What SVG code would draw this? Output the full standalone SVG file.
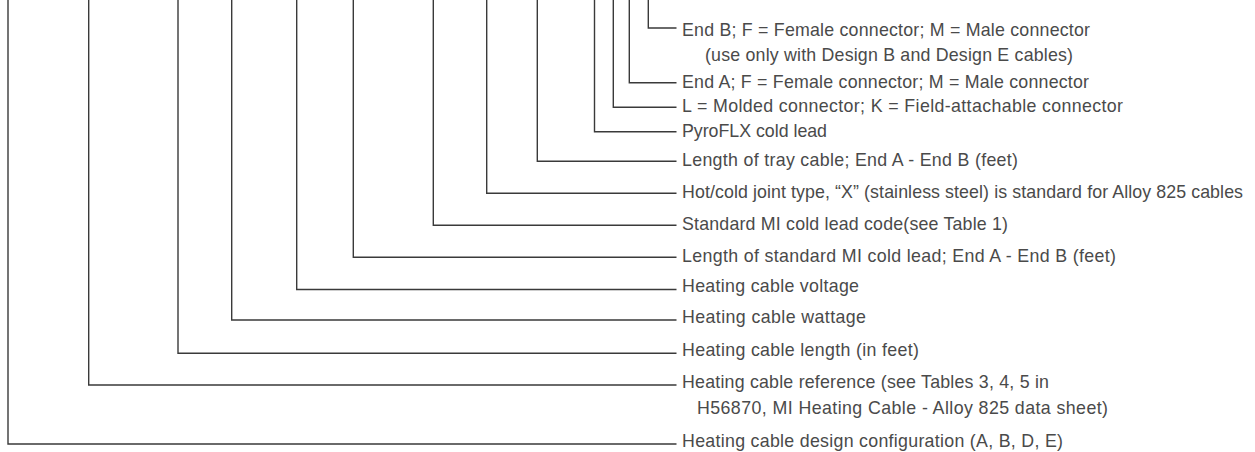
<svg xmlns="http://www.w3.org/2000/svg" width="1255" height="452" viewBox="0 0 1255 452">
<style>
.c{fill:none;stroke:#3a3a3a;stroke-width:1.4}
.t{font-family:"Liberation Sans",Arial,sans-serif;font-size:17.8px;fill:#4a4a4a}
</style>
<rect width="1255" height="452" fill="#fff"/>
<g id="connectors">
<path class="c" d="M648.3 0V28H676.5"/>
<path class="c" d="M629.3 0V82.7H676.5"/>
<path class="c" d="M613.3 0V107.3H676.5"/>
<path class="c" d="M594.5 0V131.7H676.5"/>
<path class="c" d="M537.3 0V161.3H676.5"/>
<path class="c" d="M486.7 0V193.3H676.5"/>
<path class="c" d="M433.3 0V225.3H676.5"/>
<path class="c" d="M353.3 0V257.3H676.5"/>
<path class="c" d="M296.7 0V289.5H676.5"/>
<path class="c" d="M231.7 0V320H676.5"/>
<path class="c" d="M178 0V353.3H676.5"/>
<path class="c" d="M88.7 0V385H676.5"/>
<path class="c" d="M8 0V444H676.5"/>
</g>
<g id="end-b"><text class="t" x="682" y="35.5" textLength="408">End B; F = Female connector; M = Male connector</text>
<text class="t" x="705" y="61" textLength="368">(use only with Design B and Design E cables)</text></g>
<g id="end-a"><text class="t" x="682" y="87.5" textLength="407">End A; F = Female connector; M = Male connector</text></g>
<g id="connector-type"><text class="t" x="682" y="112" textLength="441">L = Molded connector; K = Field-attachable connector</text></g>
<g id="pyroflx"><text class="t" x="682" y="136.7" textLength="145">PyroFLX cold lead</text></g>
<g id="tray-length"><text class="t" x="682" y="166" textLength="336">Length of tray cable; End A - End B (feet)</text></g>
<g id="joint-type"><text class="t" x="682" y="197.5" textLength="561">Hot/cold joint type, “X” (stainless steel) is standard for Alloy 825 cables</text></g>
<g id="cold-lead-code"><text class="t" x="682" y="229.5" textLength="326">Standard MI cold lead code(see Table 1)</text></g>
<g id="cold-lead-length"><text class="t" x="682" y="261.5" textLength="434">Length of standard MI cold lead; End A - End B (feet)</text></g>
<g id="voltage"><text class="t" x="682" y="292" textLength="177">Heating cable voltage</text></g>
<g id="wattage"><text class="t" x="682" y="322.5" textLength="184">Heating cable wattage</text></g>
<g id="cable-length"><text class="t" x="682" y="356" textLength="237">Heating cable length (in feet)</text></g>
<g id="reference"><text class="t" x="682" y="388" textLength="367">Heating cable reference (see Tables 3, 4, 5 in</text>
<text class="t" x="697" y="414" textLength="411">H56870, MI Heating Cable - Alloy 825 data sheet)</text></g>
<g id="design"><text class="t" x="682" y="447" textLength="381">Heating cable design configuration (A, B, D, E)</text></g>
</svg>
